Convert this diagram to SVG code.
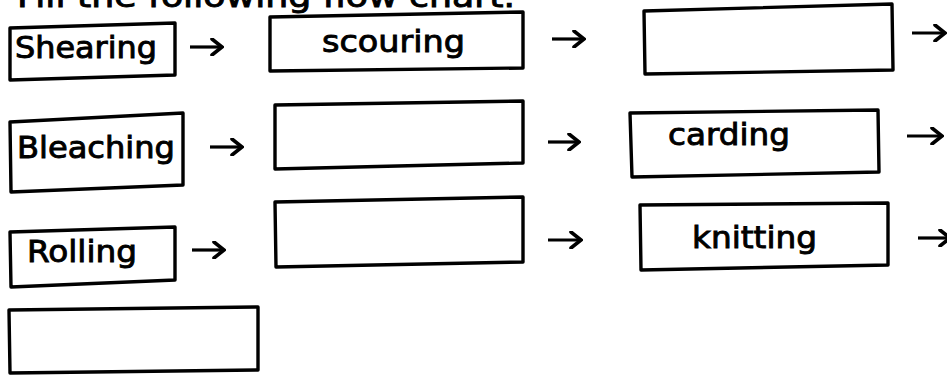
<svg xmlns="http://www.w3.org/2000/svg" width="947" height="376" viewBox="0 0 947 376">
<defs>
<style>
.box{fill:#fff;stroke:#000;stroke-width:3.4;stroke-linejoin:round}
.lbl{font-family:"DejaVu Sans","Liberation Sans",Arial,sans-serif;font-size:30px;fill:#000;stroke:#000;stroke-width:0.9}
.arr{stroke:#000;stroke-width:3.2;fill:none;marker-end:url(#ah)}
</style>
<marker id="ah" markerUnits="userSpaceOnUse" markerWidth="14" markerHeight="18" viewBox="0 0 14 18" refX="12" refY="9" orient="auto">
<path d="M2,1 L12,9 L2,17" fill="none" stroke="#000" stroke-width="3.6" stroke-linecap="round" stroke-linejoin="miter"/>
</marker>
</defs>
<rect width="947" height="376" fill="#fff"/>
<text class="lbl" x="17" y="7" textLength="498" lengthAdjust="spacingAndGlyphs">Fill the following flow chart.</text>

<g id="n-shearing"><polygon class="box" points="10,28 175,23 175,75 10,80"/><text class="lbl" x="15" y="58" textLength="142" lengthAdjust="spacingAndGlyphs">Shearing</text></g>
<g id="n-scouring"><polygon class="box" points="270,17 523,12 523,68 270,71"/><text class="lbl" x="322" y="52" textLength="143" lengthAdjust="spacingAndGlyphs">scouring</text></g>
<g id="n-blank1"><polygon class="box" points="644,11 892,4 893,70 645,74"/></g>

<g id="n-bleaching"><polygon class="box" points="10,122 183,113 183,185 11,192"/><text class="lbl" x="17" y="158" textLength="158" lengthAdjust="spacingAndGlyphs">Bleaching</text></g>
<g id="n-blank2"><polygon class="box" points="275,105 523,101 523,163 275,169"/></g>
<g id="n-carding"><polygon class="box" points="630,113 878,110 879,172 632,177"/><text class="lbl" x="668" y="145" textLength="122" lengthAdjust="spacingAndGlyphs">carding</text></g>

<g id="n-rolling"><polygon class="box" points="10,232 175,227 175,280 11,287"/><text class="lbl" x="27" y="262" textLength="110" lengthAdjust="spacingAndGlyphs">Rolling</text></g>
<g id="n-blank3"><polygon class="box" points="275,202 523,197 523,262 276,267"/></g>
<g id="n-knitting"><polygon class="box" points="640,205 888,203 888,265 641,270"/><text class="lbl" x="692" y="248" textLength="125" lengthAdjust="spacingAndGlyphs">knitting</text></g>

<g id="n-blank4"><polygon class="box" points="9,310 258,307 258,370 10,373"/></g>

<g id="connectors">
<line class="arr" x1="190" y1="47" x2="222" y2="47"/>
<line class="arr" x1="552" y1="39" x2="584" y2="39"/>
<line class="arr" x1="912" y1="33" x2="945" y2="33"/>
<line class="arr" x1="210" y1="147" x2="242" y2="147"/>
<line class="arr" x1="548" y1="142" x2="579" y2="142"/>
<line class="arr" x1="907" y1="136" x2="942" y2="136"/>
<line class="arr" x1="192" y1="250" x2="224" y2="250"/>
<line class="arr" x1="548" y1="240" x2="581" y2="240"/>
<line class="arr" x1="918" y1="238" x2="950" y2="238"/>
</g>
</svg>
